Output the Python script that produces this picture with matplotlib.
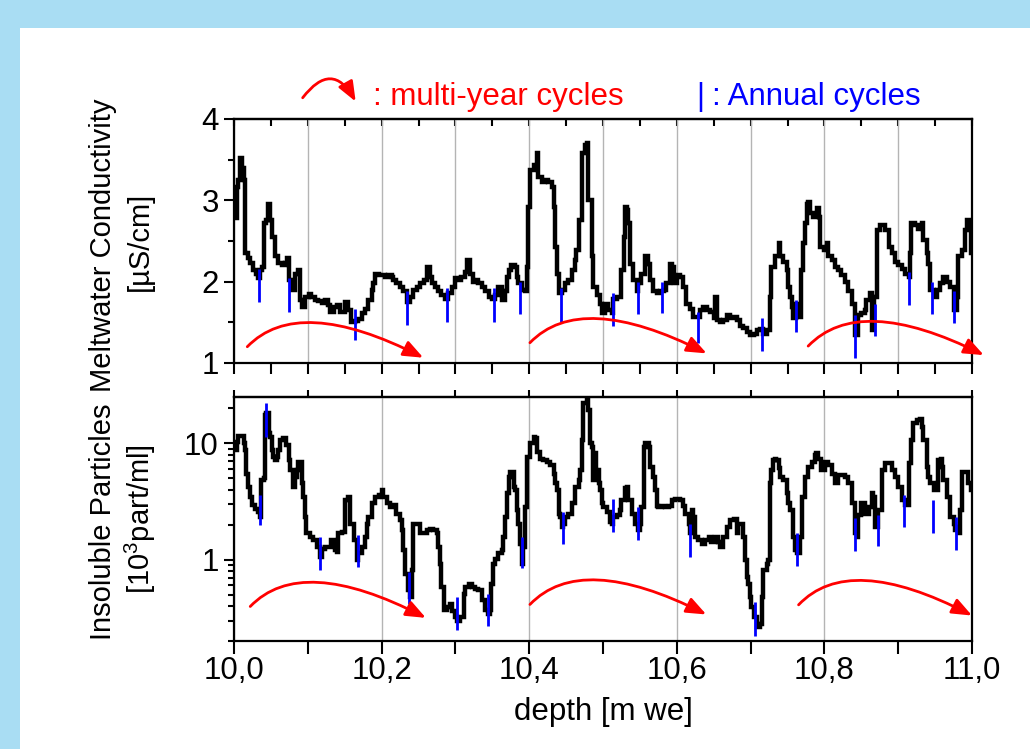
import numpy as np
import matplotlib
matplotlib.use("Agg")
import matplotlib.pyplot as plt
from matplotlib.patches import FancyArrowPatch, Rectangle
from matplotlib.path import Path
from matplotlib.ticker import MultipleLocator, FixedLocator, FuncFormatter, LogLocator, NullFormatter

# ---------------- data ----------------
cond_depth = [10.000, 10.004, 10.006, 10.008, 10.011, 10.013, 10.015, 10.019, 10.022, 10.026, 10.030, 10.033,
              10.035, 10.038, 10.040, 10.044, 10.046, 10.049, 10.052, 10.056, 10.060, 10.065, 10.069, 10.072,
              10.074, 10.078, 10.083, 10.087, 10.089, 10.092, 10.096, 10.101, 10.105, 10.110, 10.114, 10.119,
              10.123, 10.128, 10.130, 10.135, 10.139, 10.144, 10.150, 10.155, 10.159, 10.164, 10.168, 10.173,
              10.178, 10.182, 10.187, 10.189, 10.191, 10.196, 10.200, 10.205, 10.209, 10.214, 10.216, 10.220,
              10.225, 10.229, 10.234, 10.238, 10.243, 10.248, 10.252, 10.257, 10.261, 10.266, 10.268, 10.272,
              10.277, 10.281, 10.286, 10.290, 10.295, 10.299, 10.304, 10.308, 10.313, 10.316, 10.320, 10.324,
              10.327, 10.331, 10.336, 10.340, 10.345, 10.349, 10.354, 10.358, 10.363, 10.367, 10.370, 10.372,
              10.376, 10.381, 10.383, 10.385, 10.390, 10.394, 10.397, 10.399, 10.401, 10.406, 10.410, 10.412,
              10.417, 10.421, 10.426, 10.431, 10.433, 10.435, 10.437, 10.440, 10.444, 10.449, 10.453, 10.458,
              10.462, 10.464, 10.467, 10.471, 10.476, 10.478, 10.480, 10.485, 10.487, 10.492, 10.496, 10.498,
              10.503, 10.507, 10.512, 10.514, 10.519, 10.523, 10.525, 10.528, 10.530, 10.532, 10.534, 10.537,
              10.541, 10.546, 10.548, 10.552, 10.557, 10.559, 10.561, 10.564, 10.568, 10.573, 10.577, 10.582,
              10.586, 10.591, 10.594, 10.596, 10.600, 10.604, 10.609, 10.613, 10.618, 10.622, 10.627, 10.632,
              10.636, 10.641, 10.645, 10.650, 10.652, 10.654,
              10.659, 10.663, 10.668, 10.672, 10.677, 10.681, 10.686, 10.690, 10.695, 10.699, 10.704, 10.708,
              10.713, 10.717, 10.722, 10.726, 10.728, 10.733, 10.738, 10.740, 10.744, 10.749, 10.751, 10.753,
              10.756, 10.758, 10.762, 10.767, 10.768, 10.771, 10.774, 10.776, 10.778, 10.780, 10.785, 10.790,
              10.793, 10.794, 10.799, 10.803, 10.805, 10.810, 10.814, 10.819, 10.823, 10.828, 10.832, 10.837,
              10.841, 10.846, 10.850, 10.855, 10.857, 10.862, 10.864, 10.867, 10.871, 10.875, 10.880, 10.882,
              10.887, 10.891, 10.896, 10.900, 10.905, 10.909, 10.914, 10.916, 10.918, 10.923, 10.927, 10.932,
              10.934, 10.939, 10.941, 10.943, 10.948, 10.952, 10.957, 10.961, 10.966, 10.970, 10.975, 10.979,
              10.981, 10.986, 10.990, 10.993, 10.996, 10.999]
cond_value = [2.78, 3.17, 3.25, 3.52, 3.40, 3.25, 2.35, 2.29, 2.23, 2.14, 2.10, 2.04,
              2.14, 2.18, 2.72, 2.76, 2.96, 2.76, 2.55, 2.31, 2.23, 2.20, 2.23, 2.29,
              2.02, 1.90, 2.10, 2.14, 1.78, 1.69, 1.81, 1.85, 1.81, 1.78, 1.76, 1.74,
              1.77, 1.71, 1.63, 1.69, 1.71, 1.63, 1.75, 1.65, 1.51, 1.52, 1.54, 1.61,
              1.67, 1.77, 1.90, 1.98, 2.10, 2.08, 2.08, 2.06, 2.08, 2.06, 2.02, 1.98,
              1.94, 1.88, 1.75, 1.81, 1.90, 1.94, 1.98, 2.02, 2.18, 2.06, 1.98, 1.94,
              1.88, 1.83, 1.79, 1.86, 1.94, 2.04, 2.02, 2.06, 2.12, 2.27, 2.10, 1.99,
              2.02, 1.98, 1.94, 1.88, 1.81, 1.79, 1.83, 1.94, 1.77, 1.88, 2.06, 2.14,
              2.20, 2.18, 2.06, 1.98, 1.90, 1.88, 2.18, 2.92, 3.37, 3.43, 3.58, 3.29,
              3.23, 3.25, 3.23, 3.17, 2.92, 2.43, 2.10, 1.86, 1.90, 1.98, 2.02, 2.14,
              2.27, 2.39, 2.76, 3.58, 3.68, 3.70, 3.00, 2.31, 1.94, 1.83, 1.73, 1.61,
              1.73, 1.65, 1.61, 1.79, 1.81, 1.81, 2.14, 2.55, 2.92, 2.88, 2.72, 2.22,
              2.02, 1.88, 1.98, 2.10, 2.31, 2.31, 2.22, 2.02, 1.88, 1.86, 1.88, 1.90,
              1.98, 2.22, 2.18, 1.98, 2.08, 2.06, 1.94, 1.73, 1.67, 1.57, 1.57, 1.65,
              1.69, 1.65, 1.63, 1.55, 1.81, 1.53,
              1.51, 1.53, 1.59, 1.55, 1.57, 1.53, 1.45, 1.43, 1.38, 1.34, 1.36, 1.40,
              1.42, 1.36, 1.40, 1.81, 2.18, 2.31, 2.47, 2.31, 2.24, 2.14, 1.94, 1.81,
              1.69, 1.55, 1.73, 1.57, 2.14, 2.47, 2.72, 2.96, 2.98, 2.84, 2.80, 2.90,
              2.80, 2.43, 2.39, 2.47, 2.31, 2.27, 2.18, 2.14, 2.08, 2.00, 1.88, 1.73,
              1.35, 1.59, 1.61, 1.65, 1.77, 1.86, 1.40, 1.81, 2.63, 2.70, 2.70, 2.63,
              2.43, 2.35, 2.24, 2.20, 2.16, 2.10, 2.06, 2.35, 2.72, 2.70, 2.65, 2.72,
              2.51, 2.35, 2.22, 1.90, 1.81, 1.90, 1.98, 2.06, 2.00, 1.94, 1.65, 1.81,
              2.31, 2.39, 2.63, 2.76, 2.70, 2.35]

part_depth = [10.001, 10.004, 10.006, 10.010, 10.013, 10.015, 10.016, 10.019, 10.022, 10.024, 10.028, 10.033,
              10.035, 10.037, 10.040, 10.042, 10.044, 10.047, 10.049, 10.051, 10.053, 10.056, 10.058, 10.060,
              10.062, 10.067, 10.071, 10.074, 10.076, 10.080, 10.083, 10.085, 10.087, 10.089, 10.092, 10.094,
              10.096, 10.098, 10.103, 10.107, 10.112, 10.116, 10.119, 10.123, 10.128, 10.132, 10.137, 10.139,
              10.141, 10.146, 10.150, 10.155, 10.157, 10.162, 10.166, 10.168, 10.173, 10.178, 10.180, 10.182,
              10.187, 10.191, 10.196, 10.200, 10.202, 10.207, 10.211, 10.216, 10.220, 10.225, 10.227, 10.229,
              10.232, 10.236, 10.238, 10.241, 10.243, 10.248, 10.252, 10.257, 10.261, 10.266, 10.270, 10.275,
              10.277, 10.279, 10.281, 10.284, 10.288, 10.293, 10.295, 10.299, 10.302, 10.306, 10.311, 10.313,
              10.318, 10.322,
              10.327, 10.331, 10.336, 10.340, 10.344, 10.347, 10.348, 10.351, 10.354, 10.358, 10.363, 10.365,
              10.367, 10.370, 10.372, 10.374, 10.376, 10.379, 10.381, 10.383, 10.385, 10.388, 10.390, 10.392,
              10.394, 10.397, 10.401, 10.406, 10.408, 10.410, 10.415, 10.419, 10.424, 10.428, 10.433, 10.435,
              10.437, 10.440, 10.442, 10.444, 10.446, 10.449, 10.453, 10.458, 10.462, 10.467, 10.469, 10.471,
              10.473, 10.478, 10.480, 10.482, 10.485, 10.487, 10.489, 10.491, 10.494, 10.496, 10.498, 10.500,
              10.505, 10.510, 10.512, 10.514, 10.519, 10.523, 10.525, 10.530, 10.532, 10.534, 10.539, 10.543,
              10.547, 10.550, 10.552, 10.555, 10.557, 10.562, 10.564, 10.568, 10.571, 10.573, 10.575, 10.580,
              10.584, 10.589, 10.593, 10.598, 10.604, 10.609, 10.611, 10.616, 10.618, 10.620, 10.622, 10.625,
              10.629, 10.634, 10.638, 10.643, 10.647, 10.652, 10.656,
              10.659, 10.663, 10.668, 10.672, 10.677, 10.681, 10.683, 10.688, 10.690, 10.692, 10.695, 10.697,
              10.699, 10.701, 10.704, 10.708, 10.713, 10.715, 10.717, 10.722, 10.724, 10.726, 10.728, 10.731,
              10.733, 10.735, 10.738, 10.740, 10.744, 10.749, 10.751, 10.753, 10.758, 10.760, 10.763, 10.767,
              10.769, 10.774, 10.778, 10.783, 10.787, 10.789, 10.792, 10.796, 10.801, 10.805, 10.810, 10.814,
              10.819, 10.823, 10.828, 10.832, 10.837, 10.841, 10.844, 10.846, 10.850, 10.855, 10.860, 10.864,
              10.866, 10.869, 10.873, 10.878, 10.882, 10.887, 10.891, 10.896, 10.900, 10.905, 10.909, 10.914,
              10.917, 10.920, 10.925, 10.929, 10.932, 10.934, 10.939, 10.941, 10.943, 10.948, 10.952, 10.954,
              10.958, 10.959, 10.961, 10.966, 10.970, 10.975, 10.977, 10.979, 10.981, 10.984, 10.986, 10.990,
              10.995, 10.999]
part_value = [8.76, 10.2, 11.6, 11.6, 10.0, 8.76, 5.5, 4.23, 3.47, 2.95, 2.75, 2.57,
              2.33, 4.83, 5.0, 17.5, 18.1, 12.2, 11.4, 8.76, 7.67, 7.18, 7.67, 8.76,
              10.7, 11.0, 9.7, 7.18, 5.89, 4.23, 5.16, 5.89, 6.95, 6.95, 4.52, 3.47,
              2.33, 1.68, 1.57, 1.47, 1.29, 1.05, 1.24, 1.29, 1.29, 1.47, 1.20, 1.16,
              1.68, 1.74, 3.25, 3.47, 2.04, 1.47, 0.99, 1.13, 1.29, 1.57, 2.04, 2.33,
              3.04, 3.47, 3.60, 3.96, 3.47, 3.04, 2.84, 2.95, 2.49, 2.18, 1.79, 1.20,
              0.76, 0.544, 0.477, 0.81, 2.04, 2.04, 1.68, 1.68, 1.79, 1.85, 1.79, 1.68,
              1.29, 0.92, 0.58, 0.366, 0.39, 0.418, 0.36, 0.32, 0.30, 0.32, 0.51, 0.58,
              0.62, 0.58,
              0.56, 0.544, 0.45, 0.37, 0.34, 0.37, 0.62, 0.92, 1.02, 1.13, 1.20, 1.57,
              2.33, 3.71, 5.16, 5.7, 5.7, 4.23, 3.96, 2.66, 2.04, 1.37, 0.92, 1.29,
              2.84, 7.67, 10.0, 11.4, 11.0, 8.5, 7.4, 7.18, 6.95, 6.5, 5.5, 4.52,
              3.96, 2.49, 2.33, 1.91, 2.04, 2.33, 2.49, 3.04, 4.23, 4.83, 5.89, 10.7,
              22.1, 23.5, 19.4, 10.0, 9.36, 4.83, 8.2, 5.89, 4.52, 3.96, 3.04, 2.84,
              2.57, 2.11, 2.04, 2.33, 2.41, 2.66, 3.25, 4.1, 4.23, 3.25, 2.49, 2.04,
              1.79, 2.04, 2.84, 9.36, 10.0, 9.36, 6.29, 5.16, 3.96, 2.91, 2.84, 2.91,
              2.84, 2.91, 3.25, 3.30, 3.25, 2.91, 2.49, 2.04, 1.68, 2.66, 2.33, 1.57,
              1.47, 1.37, 1.47, 1.57, 1.42, 1.57, 1.42,
              1.29, 1.57, 1.91, 2.18, 2.25, 1.68, 2.04, 2.04, 1.57, 0.99, 0.71, 0.62,
              0.477, 0.39, 0.32, 0.263, 0.28, 0.477, 0.81, 0.92, 0.99, 4.52, 5.89, 7.18,
              7.4, 7.18, 6.08, 5.16, 4.83, 3.71, 3.04, 2.66, 1.57, 1.20, 1.13, 1.57,
              3.47, 5.16, 6.29, 6.95, 7.9, 8.2, 7.4, 5.89, 6.95, 6.5, 5.5, 4.52,
              5.33, 5.33, 5.16, 4.52, 3.04, 1.68, 1.57, 2.41, 3.04, 2.49, 2.84, 3.71,
              3.47, 1.91, 2.66, 5.89, 6.72, 6.72, 5.89, 5.16, 4.23, 3.25, 2.95, 6.72,
              10.7, 14.9, 15.8, 16.3, 13.9, 10.7, 6.29, 5.16, 4.52, 3.96, 3.96, 7.18,
              7.4, 6.29, 4.83, 3.47, 2.33, 2.04, 1.79, 1.91, 1.68, 2.66, 5.7, 5.7,
              4.52, 3.96]

# annual-cycle markers: depth, upper end, lower end
cond_annual_depth = [10.034, 10.074, 10.164, 10.234, 10.288, 10.352, 10.387, 10.443, 10.513, 10.548,
                     10.580, 10.629, 10.715, 10.762, 10.841, 10.869, 10.915, 10.946, 10.976]
cond_annual_top = [2.16, 2.04, 1.67, 1.88, 1.92, 1.92, 2.00, 1.92, 1.86, 2.00,
                   2.00, 1.63, 1.55, 1.77, 1.59, 1.73, 2.12, 2.00, 1.88]
cond_annual_bot = [1.75, 1.63, 1.28, 1.47, 1.51, 1.51, 1.60, 1.51, 1.45, 1.60,
                   1.61, 1.24, 1.15, 1.38, 1.06, 1.33, 1.71, 1.60, 1.49]

part_annual_depth = [10.035, 10.044, 10.116, 10.168, 10.237, 10.302, 10.344, 10.390, 10.446, 10.513,
                     10.548, 10.618, 10.706, 10.763, 10.841, 10.872, 10.908, 10.947, 10.978]
part_annual_top = [3.58, 22.1, 1.57, 1.62, 0.78, 0.48, 0.51, 1.57, 2.57, 3.29,
                   2.84, 2.04, 0.43, 1.68, 2.26, 2.41, 3.59, 3.25, 2.33]
part_annual_bot = [1.98, 11.4, 0.81, 0.86, 0.42, 0.25, 0.27, 0.84, 1.36, 1.73,
                   1.47, 1.05, 0.22, 0.89, 1.18, 1.30, 1.89, 1.70, 1.22]

# multi-year cycle arrows: start, bezier control, end (depth, value)
cond_arc_start = [(10.018, 1.20), (10.401, 1.249), (10.778, 1.208)]
cond_arc_ctrl = [(10.087, 1.848), (10.470, 1.897), (10.847, 1.86)]
cond_arc_end = [(10.2565, 1.065), (10.6405, 1.118), (11.016, 1.097)]
part_arc_start = [(10.022, 0.396), (10.401, 0.412), (10.765, 0.409)]
part_arc_ctrl = [(10.091, 1.13), (10.470, 1.18), (10.833, 1.17)]
part_arc_end = [(10.260, 0.316), (10.640, 0.338), (11.000, 0.331)]

# ---------------- style ----------------
FONT = ["Liberation Sans", "DejaVu Sans"]
plt.rcParams["font.family"] = FONT
plt.rcParams["mathtext.fontset"] = "custom"
plt.rcParams["mathtext.rm"] = "Liberation Sans"
plt.rcParams["mathtext.it"] = "Liberation Sans"
FS = 21
FSH = 22.5
BG = "#a9ddf3"
RED = "#ff0000"
BLUE = "#0000ff"

W, H = 1030, 749
fig = plt.figure(figsize=(W / 100, H / 100), dpi=100, facecolor=BG)
fig.patches.append(Rectangle((20 / W, 0), 1 - 20 / W, (H - 28) / H, transform=fig.transFigure,
                             facecolor="white", edgecolor="none", zorder=-10))


def fx(px):
    return px / W


def fy(py):
    return 1 - py / H


ax1 = fig.add_axes([fx(234), fy(363), fx(972) - fx(234), fy(119) - fy(363)])
ax2 = fig.add_axes([fx(234), fy(641), fx(972) - fx(234), fy(397) - fy(641)])

for ax in (ax1, ax2):
    ax.set_facecolor("none")
    ax.set_zorder(2)
    for s in ax.spines.values():
        s.set_linewidth(1.6)
    ax.set_xlim(10.0, 11.0)

# ----- top panel -----
ax1.set_ylim(1, 4)
ax1.plot(cond_depth, cond_value, color="black", lw=3.2, drawstyle="steps-post", zorder=3,
         solid_joinstyle="miter")
ax1.vlines(cond_annual_depth, cond_annual_bot, cond_annual_top, color=BLUE, lw=2.0, zorder=4)
ax1.xaxis.set_major_locator(MultipleLocator(0.1))
ax1.xaxis.set_minor_locator(MultipleLocator(0.05))
ax1.xaxis.set_major_formatter(NullFormatter())
ax1.grid(axis="x", which="major", color="#b4b4b4", lw=1.0, zorder=1)
ax1.yaxis.set_major_locator(FixedLocator([1, 2, 3, 4]))
ax1.yaxis.set_minor_locator(MultipleLocator(0.5))
ax1.tick_params(axis="y", which="major", direction="out", length=7, width=1.5, labelsize=FSH, pad=4)
ax1.tick_params(axis="y", which="minor", direction="out", length=4, width=1.5)
ax1.tick_params(axis="x", which="both", direction="out", length=8, width=1.5)
sec1 = ax1.secondary_xaxis("top")
sec1.xaxis.set_major_locator(MultipleLocator(0.05))
sec1.tick_params(axis="x", direction="in", length=5, width=1.5, labeltop=False)
sec1.spines["top"].set_linewidth(1.6)

# ----- bottom panel -----
ax2.set_yscale("log")
ax2.set_ylim(0.2, 25)
ax2.plot(part_depth, part_value, color="black", lw=3.2, drawstyle="steps-post", zorder=3,
         solid_joinstyle="miter")
ax2.vlines(part_annual_depth, part_annual_bot, part_annual_top, color=BLUE, lw=2.0, zorder=4)
ax2.xaxis.set_major_locator(MultipleLocator(0.2))
ax2.xaxis.set_minor_locator(MultipleLocator(0.1))
ax2.xaxis.set_major_formatter(FuncFormatter(lambda v, p: f"{v:.1f}".replace(".", ",")))
ax2.grid(axis="x", which="major", color="#b4b4b4", lw=1.0, zorder=1)
ax2.yaxis.set_major_locator(FixedLocator([1, 10]))
ax2.yaxis.set_major_formatter(FuncFormatter(lambda v, p: f"{v:g}"))
ax2.yaxis.set_minor_locator(LogLocator(base=10, subs=np.arange(2, 10)))
ax2.yaxis.set_minor_formatter(NullFormatter())
ax2.tick_params(axis="y", which="major", direction="out", length=7, width=1.5, labelsize=FSH, pad=4)
ax2.tick_params(axis="y", which="minor", direction="out", length=4, width=1.5)
ax2.tick_params(axis="x", which="major", direction="out", length=9, width=1.5, labelsize=FSH, pad=2)
ax2.tick_params(axis="x", which="minor", direction="out", length=9, width=1.5)
sec2 = ax2.secondary_xaxis("top")
sec2.xaxis.set_major_locator(MultipleLocator(0.1))
sec2.tick_params(axis="x", direction="out", length=5, width=1.5, labeltop=False)
sec2.spines["top"].set_linewidth(1.6)

# ----- multi-year arrows -----
def arc(ax, s, c, e):
    p = Path([s, c, e], [Path.MOVETO, Path.CURVE3, Path.CURVE3])
    a = FancyArrowPatch(path=p, arrowstyle="-|>,head_length=0.75,head_width=0.3",
                        mutation_scale=16, color=RED, lw=2.0, transform=ax.transData,
                        clip_on=False, zorder=5)
    ax.add_patch(a)


for s, c, e in zip(cond_arc_start, cond_arc_ctrl, cond_arc_end):
    arc(ax1, s, c, e)
for s, c, e in zip(part_arc_start, part_arc_ctrl, part_arc_end):
    arc(ax2, s, c, e)

# ----- labels -----
fig.text(fx(103), fy(245), "Meltwater Conductivity", rotation=90, ha="center", va="center",
         fontsize=FS, color="black")
fig.text(fx(140), fy(241), "[µS/cm]", rotation=90, ha="center", va="center", fontsize=FS)
fig.text(fx(103), fy(522), "Insoluble Particles", rotation=90, ha="center", va="center", fontsize=FS)
fig.text(fx(140), fy(519), r"[10$^{3}$part/ml]", rotation=90, ha="center", va="center", fontsize=FS)
ax2.set_xlabel("depth [m we]", fontsize=FSH, labelpad=8)

# ----- top legend -----
leg = FancyArrowPatch((fx(301), fy(100)), (fx(357), fy(104)), transform=fig.transFigure,
                      connectionstyle="arc3,rad=-0.8",
                      arrowstyle="-|>,head_length=0.75,head_width=0.3", mutation_scale=16,
                      color=RED, lw=2.0)
fig.patches.append(leg)
fig.text(fx(373), fy(97), ": multi-year cycles", color=RED, fontsize=FSH, ha="left", va="center")
fig.text(fx(700), fy(97), "|", color=BLUE, fontsize=FSH, ha="center", va="center")
fig.text(fx(712), fy(97), ": Annual cycles", color=BLUE, fontsize=FSH, ha="left", va="center")

fig.savefig("out.png", dpi=100, facecolor=BG)
